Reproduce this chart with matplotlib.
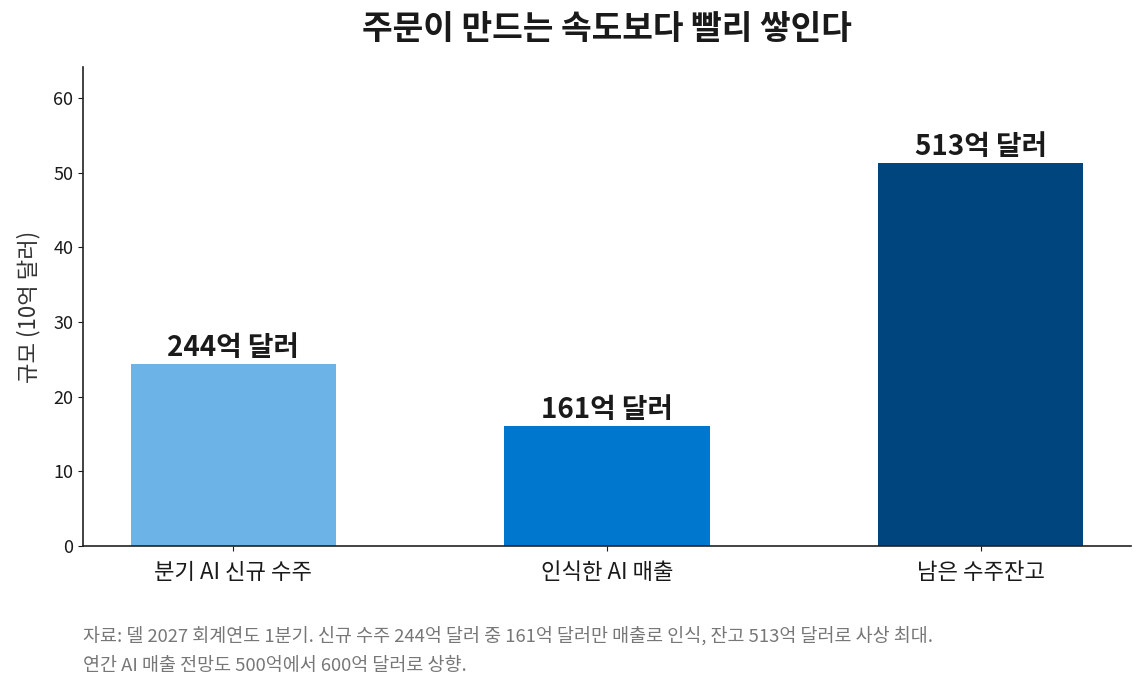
import matplotlib
matplotlib.use("Agg")
import matplotlib.pyplot as plt

plt.rcParams['font.family'] = ['Noto Sans CJK KR', 'DejaVu Sans']

categories = ["분기 AI 신규 수주", "인식한 AI 매출", "남은 수주잔고"]
values = [24.4, 16.1, 51.3]
labels = ["244억 달러", "161억 달러", "513억 달러"]
colors = ["#6CB3E8", "#0077CF", "#00457D"]

fig = plt.figure(figsize=(11.45, 6.91), dpi=100)
ax = fig.add_axes([83/1145, 1-546/691, (1131-83)/1145, (546-67)/691])

x = range(len(categories))
bars = ax.bar(x, values, width=0.55, color=colors)
ax.set_ylim(0, max(values) * 1.25)
ax.set_xticks(list(x))
ax.set_xticklabels(categories, fontsize=16, color="#1a1a1a")
ax.tick_params(axis='y', labelsize=13, colors="#1a1a1a")
ax.tick_params(axis='x', colors="#1a1a1a", pad=7)
ax.set_ylabel("규모 (10억 달러)", fontsize=16, color="#333333", labelpad=9)

for spine in ["top", "right"]:
    ax.spines[spine].set_visible(False)
for spine in ["left", "bottom"]:
    ax.spines[spine].set_color("#222222")
    ax.spines[spine].set_linewidth(1.2)

for b, v, lab in zip(bars, values, labels):
    ax.annotate(lab, (b.get_x() + b.get_width()/2, v), xytext=(0, 1),
                textcoords="offset points", ha="center", va="bottom",
                fontsize=20, fontweight="bold", color="#1a1a1a")

fig.text(0.5*(83+1131)/1145, 1-29/691, "주문이 만드는 속도보다 빨리 쌓인다",
         ha="center", va="center", fontsize=24, fontweight="bold", color="#1a1a1a")

fig.text(83/1145, 1-636/691,
         "자료: 델 2027 회계연도 1분기. 신규 수주 244억 달러 중 161억 달러만 매출로 인식, 잔고 513억 달러로 사상 최대.",
         ha="left", va="center", fontsize=13.3, color="#777777")
fig.text(83/1145, 1-666/691,
         "연간 AI 매출 전망도 500억에서 600억 달러로 상향.",
         ha="left", va="center", fontsize=13.3, color="#777777")

fig.savefig("out.png", dpi=100)
